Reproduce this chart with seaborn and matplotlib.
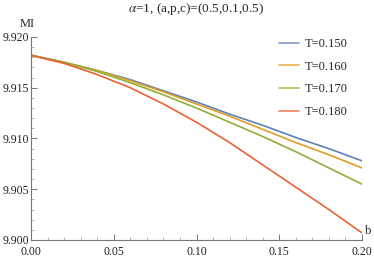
import numpy as np
import pandas as pd
import matplotlib
matplotlib.use("Agg")
import matplotlib.pyplot as plt
import seaborn as sns
from matplotlib.ticker import MultipleLocator

# values
b_vals = [0.00, 0.02, 0.04, 0.06, 0.08, 0.10, 0.12, 0.14, 0.16, 0.18, 0.20]
mi_t150 = [9.9182, 9.9175, 9.9167, 9.9158, 9.9147, 9.9136, 9.9124, 9.9113, 9.9101, 9.9090, 9.9078]
mi_t160 = [9.9182, 9.9175, 9.9167, 9.9157, 9.9146, 9.9134, 9.9122, 9.9109, 9.9096, 9.9084, 9.9071]
mi_t170 = [9.9182, 9.9175, 9.9166, 9.9155, 9.9143, 9.9130, 9.9116, 9.9102, 9.9087, 9.9071, 9.9055]
mi_t180 = [9.9182, 9.9174, 9.9163, 9.9150, 9.9134, 9.9116, 9.9096, 9.9074, 9.9052, 9.9030, 9.9007]
series_labels = ["T=0.150", "T=0.160", "T=0.170", "T=0.180"]
colors = ["#5E81B5", "#E19C24", "#8FB032", "#EB6235"]

frames = []
for lab, vals in zip(series_labels, [mi_t150, mi_t160, mi_t170, mi_t180]):
    frames.append(pd.DataFrame({"b": b_vals, "MI": vals, "T": lab}))
df = pd.concat(frames, ignore_index=True)

sns.set_style("white")
plt.rcParams["font.family"] = ["Liberation Serif", "DejaVu Serif"]
plt.rcParams["mathtext.fontset"] = "stix"

fig = plt.figure(figsize=(3.74, 2.57), dpi=100)
ax = fig.add_axes([31 / 374, 1 - 240 / 257, (362 - 31) / 374, (240 - 37) / 257])

sns.lineplot(data=df, x="b", y="MI", hue="T", palette=colors, linewidth=1.2, ax=ax)

ax.set_xlim(0, 0.2)
ax.set_ylim(9.900, 9.920)
ax.xaxis.set_major_locator(MultipleLocator(0.05))
ax.xaxis.set_minor_locator(MultipleLocator(0.01))
ax.yaxis.set_major_locator(MultipleLocator(0.005))
ax.yaxis.set_minor_locator(MultipleLocator(0.001))
ax.xaxis.set_major_formatter(matplotlib.ticker.FormatStrFormatter("%.2f"))
ax.yaxis.set_major_formatter(matplotlib.ticker.FormatStrFormatter("%.3f"))

axis_col = "#777777"
for side in ["top", "right"]:
    ax.spines[side].set_visible(False)
for side in ["left", "bottom"]:
    ax.spines[side].set_color(axis_col)
    ax.spines[side].set_linewidth(0.8)
ax.tick_params(which="major", direction="in", length=4, width=0.7, color=axis_col,
               labelsize=8.5, labelcolor="#222222", pad=1.5, left=True, bottom=True)
ax.tick_params(which="minor", direction="in", length=2, width=0.6, color="#aaaaaa",
               left=True, bottom=True)
ax.tick_params(axis="x", which="major", pad=4)
for lbl in ax.get_yticklabels():
    lbl.set_verticalalignment("center_baseline")

ax.set_xlabel("")
ax.set_ylabel("")
ax.text(-0.002, 9.9207, "MI", fontsize=9, ha="center", va="bottom")
ax.text(0.2015, 9.9009, "b", fontsize=9, ha="left", va="center", clip_on=False)
fig.text(0.523, 0.965, r"$\alpha$=1, (a,p,c)=(0.5,0.1,0.5)", fontsize=9.5,
         ha="center", va="center")

handles, labels = ax.get_legend_handles_labels()
ax.legend(handles, labels, frameon=False, fontsize=9, loc="upper left",
          bbox_to_anchor=(0.715, 1.05), handlelength=1.6, labelspacing=0.85,
          handletextpad=0.5)
for line in ax.get_legend().get_lines():
    line.set_alpha(0.8)

fig.savefig("out.png", dpi=100)
